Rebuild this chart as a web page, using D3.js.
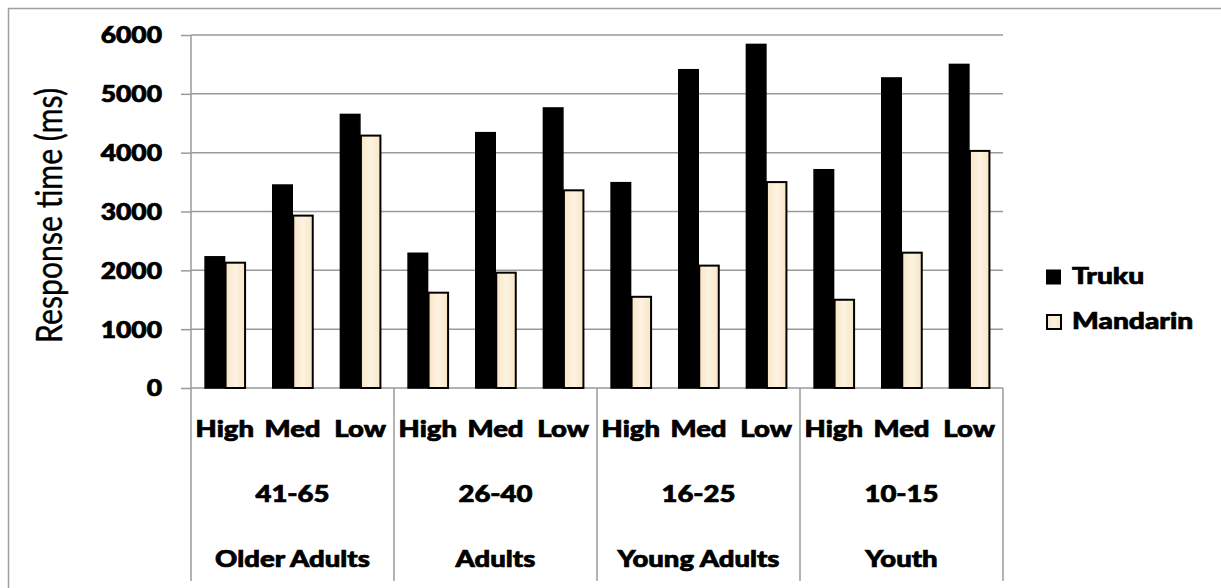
<!DOCTYPE html>
<html>
<head>
<meta charset="utf-8">
<script src="https://cdn.jsdelivr.net/npm/d3@7"></script>
<style>
  html, body { margin: 0; padding: 0; background: #ffffff; }
  svg { display: block; }
  text { font-family: Lato, "Noto Sans", sans-serif; fill: #000; }
  .heavy { stroke: #000; stroke-width: 0.7px; paint-order: stroke; }
</style>
</head>
<body>
<svg id="chart" width="1221" height="588"></svg>
<script>
// Age groups, their age ranges and proficiency levels
const groups = ["Older Adults", "Adults", "Young Adults", "Youth"];
const ageRanges = ["41-65", "26-40", "16-25", "10-15"];
const levels = ["High", "Med", "Low"];
const seriesNames = ["Truku", "Mandarin"];

// Mean response time (ms), ordered group by group, High/Med/Low
const truku    = [2230, 3450, 4650, 2290, 4340, 4760, 3490, 5410, 5840, 3710, 5270, 5500];
const mandarin = [2130, 2930, 4290, 1620, 1960, 3360, 1550, 2080, 3500, 1500, 2300, 4030];

const yTicks = [0, 1000, 2000, 3000, 4000, 5000, 6000];
const yTitle = "Response time (ms)";

const svg = d3.select("#chart");

// Plot area
const plotLeft = 191, plotRight = 1003, plotTop = 35, plotBottom = 388;
const sepBottom = 581;

const rows = groups.flatMap((g, gi) => levels.map((l, li) => {
  const i = gi * levels.length + li;
  return { key: g + "|" + l, group: g, level: l, values: [truku[i], mandarin[i]] };
}));

const x = d3.scaleBand().domain(rows.map(d => d.key)).range([plotLeft, plotRight])
  .paddingInner(0.394).paddingOuter(0.197);
const xGroup = d3.scaleBand().domain(groups).range([plotLeft, plotRight]).padding(0);
const xSeries = d3.scaleBand().domain(seriesNames).range([0, x.bandwidth()]).padding(0);
const y = d3.scaleLinear().domain([0, 6000]).range([plotBottom, plotTop]);

const gridColor = "#9a9a9a";

// Outer frame (left and top edges)
svg.append("path")
  .attr("d", "M8.5,588 V8.5 H1221")
  .attr("fill", "none").attr("stroke", "#a0a0a0").attr("stroke-width", 1.5);

// Horizontal gridlines
svg.append("g").selectAll("line").data(yTicks).join("line")
  .attr("x1", plotLeft).attr("x2", plotRight)
  .attr("y1", d => y(d)).attr("y2", d => y(d))
  .attr("stroke", gridColor).attr("stroke-width", 1.5);

// Mandarin bar fill
const defs = svg.append("defs");
const grad = defs.append("linearGradient").attr("id", "cream").attr("x1", 0).attr("x2", 1).attr("y1", 0).attr("y2", 0);
grad.append("stop").attr("offset", "0%").attr("stop-color", "#f8e5c4");
grad.append("stop").attr("offset", "50%").attr("stop-color", "#fdf3e2");
grad.append("stop").attr("offset", "100%").attr("stop-color", "#f8e5c4");

const fills = { Truku: "#000000", Mandarin: "url(#cream)" };

// Bars
const cat = svg.append("g").selectAll("g").data(rows).join("g")
  .attr("transform", d => `translate(${x(d.key)},0)`);
cat.selectAll("rect").data(d => d.values.map((v, i) => ({ s: seriesNames[i], v })))
  .join("rect")
  .attr("x", d => xSeries(d.s) + 0.75)
  .attr("width", xSeries.bandwidth() - 1)
  .attr("y", d => y(d.v))
  .attr("height", d => y(0) - y(d.v))
  .attr("fill", d => fills[d.s])
  .attr("stroke", "#000")
  .attr("stroke-width", d => d.s === "Mandarin" ? 2 : 1.5);

// Value axis
const yAxis = d3.axisLeft(y).tickValues(yTicks).tickSize(10).tickPadding(19).tickFormat(d3.format("d"));
const yg = svg.append("g").attr("transform", `translate(${plotLeft},0)`).call(yAxis);
yg.select(".domain").remove();
yg.selectAll(".tick line").attr("stroke", gridColor).attr("stroke-width", 1.5);
yg.selectAll(".tick text")
  .attr("class", "heavy")
  .attr("font-size", 22).attr("font-weight", 900)
  .attr("font-family", "Lato").attr("dy", "0.36em").attr("fill", "#000");

// Vertical axis line continuing down through the category table
svg.append("line").attr("x1", plotLeft).attr("x2", plotLeft).attr("y1", plotTop).attr("y2", sepBottom)
  .attr("stroke", gridColor).attr("stroke-width", 1.5);

// Group separators of the category table
svg.append("g").selectAll("line").data(groups).join("line")
  .attr("x1", d => xGroup(d) + xGroup.bandwidth()).attr("x2", d => xGroup(d) + xGroup.bandwidth())
  .attr("y1", plotBottom).attr("y2", sepBottom)
  .attr("stroke", gridColor).attr("stroke-width", 1.5);

// Category labels: level, age range, group name
const labels = svg.append("g").attr("font-size", 22).attr("font-weight", 900).attr("text-anchor", "middle");
labels.selectAll("text.level").data(rows).join("text").attr("class", "level heavy")
  .attr("x", d => x(d.key) + x.bandwidth() / 2).attr("y", 436.5).text(d => d.level);
labels.selectAll("text.age").data(groups).join("text").attr("class", "age heavy")
  .attr("x", d => xGroup(d) + xGroup.bandwidth() / 2).attr("y", 501.5).text((d, i) => ageRanges[i]);
labels.selectAll("text.grp").data(groups).join("text").attr("class", "grp heavy")
  .attr("x", d => xGroup(d) + xGroup.bandwidth() / 2).attr("y", 566.5).text(d => d);

// Axis title
svg.append("text")
  .attr("id", "ytitle")
  .attr("transform", "translate(61.5,215.5) rotate(-90)")
  .attr("text-anchor", "middle").attr("font-size", 36).attr("font-weight", 400)
  .attr("stroke", "#000").attr("stroke-width", 0.4)
  .text(yTitle);

// Legend
const legend = svg.append("g").attr("transform", "translate(1046,0)");
const legY = [269.5, 314];
legend.selectAll("rect").data(seriesNames).join("rect")
  .attr("x", d => d === "Mandarin" ? 1 : 0)
  .attr("y", (d, i) => legY[i] + (d === "Mandarin" ? 1 : 0))
  .attr("width", d => d === "Mandarin" ? 14 : 15)
  .attr("height", d => d === "Mandarin" ? 14 : 15)
  .attr("fill", d => fills[d]).attr("stroke", d => d === "Mandarin" ? "#000" : "none").attr("stroke-width", 2);
legend.selectAll("text").data(seriesNames).join("text")
  .attr("class", "heavy")
  .attr("x", 26).attr("y", (d, i) => legY[i] + 14.5)
  .attr("font-size", 22).attr("font-weight", 900).text(d => d);

// Widen the bold labels to the chart's broad lettering
function widen(sel, k) {
  sel.each(function () {
    const n = this.getComputedTextLength();
    this.setAttribute("textLength", (n * k).toFixed(1));
    this.setAttribute("lengthAdjust", "spacingAndGlyphs");
  });
}
widen(yg.selectAll(".tick text"), 1.2);
widen(labels.selectAll("text"), 1.25);
widen(legend.selectAll("text"), 1.28);
d3.select("#ytitle").attr("textLength", 255).attr("lengthAdjust", "spacingAndGlyphs");
</script>
</body>
</html>
